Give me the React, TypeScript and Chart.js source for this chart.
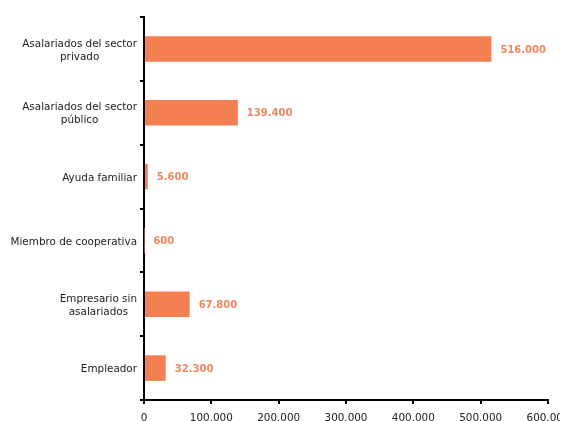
import React, { useEffect, useRef } from "react";
import { Chart, registerables } from "chart.js";

Chart.register(...registerables);

const categories: string[][] = [
  ["Asalariados del sector", "privado"],
  ["Asalariados del sector", "público"],
  ["Ayuda familiar"],
  ["Miembro de cooperativa"],
  ["Empresario sin", "asalariados"],
  ["Empleador"],
];
const values: number[] = [516000, 139400, 5600, 600, 67800, 32300];
const xMin = 0;
const xMax = 600000;
const xStep = 100000;

const BAR_COLOR = "#F47F52";
const LABEL_COLOR = "#F4865C";
const TEXT_COLOR = "#222222";
const FONT = "'DejaVu Sans', Verdana, sans-serif";

const fmt = (v: number) =>
  Math.round(v)
    .toString()
    .replace(/\B(?=(\d{3})+(?!\d))/g, ".");

const customText = {
  id: "customText",
  afterDatasetsDraw(chart: any) {
    const ctx = chart.ctx;
    const meta = chart.getDatasetMeta(0);
    const yScale = chart.scales.y;
    ctx.save();
    ctx.font = `bold 10px ${FONT}`;
    ctx.fillStyle = LABEL_COLOR;
    ctx.textAlign = "left";
    ctx.textBaseline = "middle";
    meta.data.forEach((bar: any, i: number) => {
      ctx.fillText(fmt(values[i]), bar.x + 9, bar.y + 1);
    });
    ctx.font = `10.4px ${FONT}`;
    ctx.fillStyle = TEXT_COLOR;
    ctx.textAlign = "center";
    const right = chart.chartArea.left - 7;
    const lh = 13;
    categories.forEach((lines, i) => {
      const cy = yScale.getPixelForValue(i);
      const w = Math.max(...lines.map((l) => ctx.measureText(l).width));
      const cx = right - w / 2;
      const startY = cy - ((lines.length - 1) * lh) / 2;
      lines.forEach((l, j) => ctx.fillText(l, cx, startY + j * lh + 1.5));
    });
    ctx.restore();
  },
};

export default function App() {
  const ref = useRef<HTMLCanvasElement | null>(null);
  useEffect(() => {
    if (!ref.current) return;
    const chart = new Chart(ref.current, {
      type: "bar",
      data: {
        labels: categories.map((c) => c.join(" ")),
        datasets: [
          {
            data: values,
            backgroundColor: BAR_COLOR,
            borderWidth: 0,
            barPercentage: 0.4,
            categoryPercentage: 1,
          },
        ],
      },
      options: {
        indexAxis: "y",
        animation: false,
        responsive: true,
        maintainAspectRatio: false,
        layout: { padding: { top: 9, right: 20, left: 0, bottom: 0 } },
        plugins: {
          legend: { display: false },
          tooltip: { enabled: false },
        },
        scales: {
          x: {
            min: xMin,
            max: xMax,
            ticks: {
              stepSize: xStep,
              color: TEXT_COLOR,
              font: { family: FONT, size: 10.4 },
              padding: 8,
              callback: (v: any) => fmt(Number(v)),
              maxRotation: 0,
            },
            grid: {
              drawOnChartArea: false,
              drawTicks: true,
              tickLength: 4,
              color: "#000",
              lineWidth: 2,
            },
            border: { display: true, color: "#000", width: 2 },
            afterFit: (s: any) => {
              s.height = 21;
              s.paddingRight = 0;
              s.paddingLeft = 0;
            },
          },
          y: {
            ticks: { display: false },
            grid: {
              offset: true,
              drawOnChartArea: false,
              drawTicks: true,
              tickLength: 4,
              color: "#000",
              lineWidth: 2,
            },
            border: { display: true, color: "#000", width: 2 },
            afterFit: (s: any) => {
              s.width = 136;
              s.paddingTop = 0;
              s.paddingBottom = 0;
            },
          },
        },
      },
      plugins: [customText],
    } as any);
    return () => chart.destroy();
  }, []);
  return (
    <div style={{ width: 560, height: 413, position: "relative" }}>
      <canvas ref={ref} />
    </div>
  );
}
